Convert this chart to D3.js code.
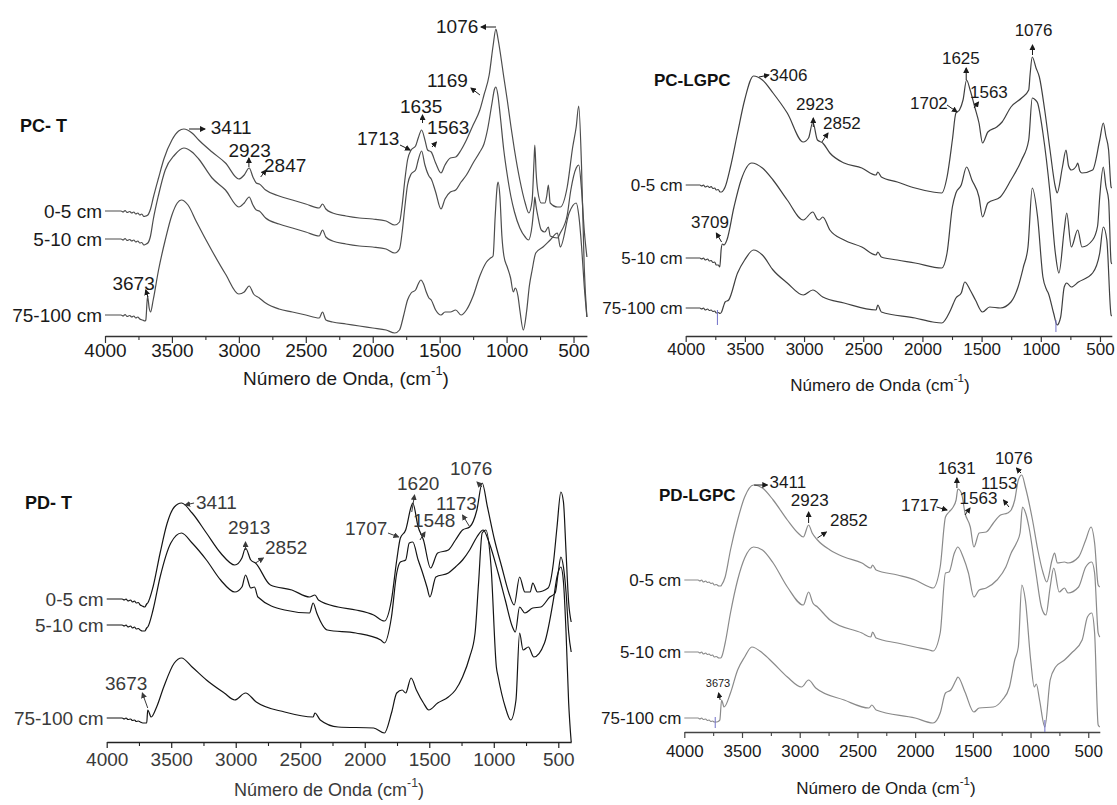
<!DOCTYPE html>
<html><head><meta charset="utf-8">
<script src="https://cdn.jsdelivr.net/npm/d3@7"></script>
<style>
body{margin:0;background:#fff;}
svg text{font-family:Arial,"Liberation Sans",sans-serif;}
</style>
</head><body>
<svg id="chart" width="1117" height="805"></svg>
<script>
// ---------- data ----------
const depthLabels = ["0-5 cm", "5-10 cm", "75-100 cm"];
const majorTicks = [4000, 3500, 3000, 2500, 2000, 1500, 1000, 500];
const minorTicks = [3750, 3250, 2750, 2250, 1750, 1250, 750];

// PC- T  [wavenumber cm-1, intensity a.u.]
const pcT_0_5 = [[4000,125],[3880,125],[3865,124],[3850,125.5],[3835,123.5],[3815,124.5],[3800,123],[3785,124],[3770,122],[3755,123],[3740,121],[3725,122],[3710,119.5],[3695,120],[3680,121],[3660,127],[3640,138],[3600,158],[3560,177],[3500,196],[3450,205],[3411,207],[3350,203],[3300,196],[3200,184],[3100,173],[3000,157],[2960,161],[2923,168],[2895,159],[2870,153],[2847,152],[2800,146],[2700,140],[2600,136],[2500,132],[2400,128],[2375,132],[2350,127],[2300,123],[2200,120],[2100,118],[2000,117],[1900,115],[1835,111],[1800,114],[1780,131],[1760,156],[1740,176],[1713,186],[1680,190],[1660,198],[1635,206],[1610,196],[1590,186],[1563,184],[1530,173],[1490,163],[1460,171],[1420,178],[1380,179],[1340,186],[1300,196],[1250,211],[1200,226],[1169,241],[1130,261],[1100,291],[1080,307],[1065,298],[1048,284],[1021,259],[995,236],[967,209],[941,186],[901,156],[861,133],[834,123],[809,136],[795,175],[789,191],[780,165],[768,146],[741,133],[714,133],[700,140],[688,151],[674,133],[620,129],[599,129],[547,149],[506,189],[480,209],[461,230],[440,169],[420,69],[400,19]];
const pcT_5_10 = [[4000,97],[3880,97],[3865,96],[3850,97.5],[3835,95.5],[3815,96.5],[3800,95],[3785,96],[3770,94],[3755,95],[3740,93],[3725,93.5],[3710,91],[3700,91.5],[3680,93],[3660,100],[3640,116],[3600,141],[3550,166],[3480,181],[3411,188],[3350,184],[3300,177],[3200,158],[3100,146],[3000,129],[2960,133],[2923,139],[2895,131],[2870,126],[2847,125],[2800,118],[2700,112],[2600,108],[2500,104],[2400,100],[2375,106],[2350,99],[2300,95],[2200,92],[2100,90],[2000,89],[1900,87],[1835,83],[1800,87],[1780,104],[1760,129],[1740,151],[1713,162],[1680,166],[1660,176],[1635,185],[1610,171],[1580,160],[1563,157],[1530,144],[1490,127],[1460,137],[1420,144],[1380,146],[1340,154],[1300,161],[1250,173],[1200,184],[1169,192],[1140,208],[1110,232],[1090,247],[1080,249],[1065,241],[1048,221],[1021,186],[995,161],[967,139],[941,124],[901,108],[861,99],[837,96],[809,111],[795,130],[789,139],[780,130],[768,121],[741,106],[714,104],[688,109],[674,100],[620,98],[599,103],[547,121],[520,146],[480,168],[461,171],[440,146],[420,106],[400,79]];
const pcT_75_100 = [[4000,21],[3880,21],[3865,20],[3850,21.5],[3835,19.5],[3815,20.5],[3800,19],[3785,20],[3770,18],[3755,19],[3740,17],[3720,16],[3700,15],[3695,16],[3682,40],[3670,28],[3660,24],[3640,36],[3600,66],[3550,96],[3500,121],[3460,133],[3430,136],[3380,131],[3320,115],[3200,85],[3100,62],[3000,42],[2960,44],[2923,50],[2890,42],[2847,38],[2800,33],[2700,27],[2600,24],[2500,21],[2400,18],[2375,24],[2350,16],[2300,14],[2200,12],[2100,10],[2000,8],[1900,6],[1835,3],[1800,6],[1770,20],[1740,36],[1713,43],[1680,46],[1660,52],[1640,56],[1620,52],[1600,44],[1580,38],[1563,36],[1530,26],[1490,21],[1460,24],[1420,24],[1380,26],[1340,21],[1300,26],[1250,40],[1200,60],[1150,74],[1120,78],[1101,80],[1085,120],[1070,150],[1063,154],[1050,140],[1035,100],[1020,80],[995,69],[970,58],[950,44],[935,48],[915,40],[900,25],[875,6],[850,25],[830,50],[809,66],[782,83],[728,89],[674,96],[620,103],[599,89],[533,123],[480,133],[460,120],[440,90],[420,50],[400,19]];

// PC-LGPC
const pcL_0_5 = [[4000,151],[3880,151],[3865,150],[3850,151],[3835,149],[3815,150],[3800,148.5],[3785,149.5],[3770,147.5],[3755,148],[3742,146],[3725,146.5],[3710,144],[3697,144],[3680,146],[3667,149],[3622,169],[3562,203],[3502,236],[3427,260],[3352,256],[3262,243],[3142,223],[3007,194],[2962,198],[2926,214],[2887,196],[2842,193],[2782,183],[2662,173],[2512,168],[2392,161],[2377,164],[2347,159],[2212,154],[2062,148],[1912,144],[1837,143],[1792,159],[1747,196],[1717,223],[1687,226],[1657,236],[1627,256],[1597,246],[1558,229],[1522,213],[1492,193],[1447,204],[1372,209],[1327,214],[1252,229],[1162,238],[1102,246],[1090,262],[1072,279],[1040,268],[1012,259],[967,226],[922,186],[877,149],[862,143],[817,169],[787,186],[765,170],[742,166],[700,170],[688,173],[670,165],[652,163],[562,166],[502,196],[472,213],[450,200],[427,186],[406,149],[400,148]];
const pcL_5_10 = [[4000,78],[3880,78],[3865,77],[3850,78],[3835,76],[3815,77],[3800,75],[3785,75.5],[3770,73.5],[3755,74],[3742,71],[3725,71],[3712,69],[3700,87],[3690,92],[3676,91],[3652,96],[3592,129],[3532,156],[3442,173],[3352,168],[3262,156],[3142,136],[3007,116],[2926,124],[2890,117],[2872,116],[2842,119],[2782,106],[2662,96],[2512,89],[2392,81],[2377,84],[2347,79],[2212,76],[2062,73],[1837,68],[1792,83],[1747,129],[1717,143],[1672,151],[1627,169],[1582,156],[1522,139],[1492,119],[1447,133],[1342,139],[1252,156],[1162,176],[1102,196],[1072,238],[1045,236],[1027,233],[982,203],[922,143],[877,83],[847,63],[802,106],[781,123],[742,89],[688,106],[652,89],[562,96],[520,110],[502,139],[472,169],[450,150],[427,136],[406,74],[400,72]];
const pcL_75_100 = [[4000,28],[3880,28],[3865,27],[3850,28],[3835,26],[3815,27],[3800,25.5],[3785,26],[3770,24.5],[3755,25],[3742,23],[3725,23.5],[3710,22.5],[3697,24],[3680,30],[3667,34],[3637,36],[3562,63],[3502,76],[3427,86],[3352,81],[3262,66],[3142,53],[3007,41],[2926,46],[2842,39],[2662,33],[2392,26],[2377,31],[2347,24],[2062,18],[1912,14],[1837,13],[1762,26],[1717,38],[1672,43],[1642,54],[1597,46],[1552,36],[1492,24],[1432,29],[1342,28],[1252,34],[1192,49],[1147,69],[1108,89],[1072,148],[1027,119],[982,59],[950,46],[937,43],[892,23],[862,11],[832,19],[802,49],[781,53],[742,49],[682,54],[562,63],[502,83],[472,109],[442,96],[406,21],[400,20]];

// PD- T
const pdT_0_5 = [[4000,143],[3880,143],[3865,142],[3850,143],[3835,141],[3815,142],[3800,140],[3785,141],[3770,139],[3755,139.5],[3740,137],[3724,136],[3705,135],[3690,138],[3682,139],[3641,155],[3586,189],[3531,219],[3476,235],[3420,239],[3338,229],[3227,209],[3117,189],[3007,177],[2952,184],[2924,194],[2883,182],[2847,179],[2731,157],[2565,152],[2428,145],[2386,147],[2359,142],[2207,135],[2069,132],[1931,127],[1848,121],[1793,142],[1752,182],[1724,204],[1683,212],[1641,235],[1628,239],[1586,215],[1545,202],[1490,174],[1435,189],[1352,192],[1297,202],[1242,212],[1187,215],[1131,232],[1090,259],[1049,235],[994,202],[938,175],[883,149],[842,137],[800,165],[759,150],[718,150],[698,159],[662,150],[579,154],[538,179],[510,215],[480,250],[460,240],[440,190],[420,140],[400,120]];
const pdT_5_10 = [[4000,117],[3880,117],[3865,116],[3850,117],[3835,115],[3815,116],[3800,114],[3785,115],[3770,113],[3755,113.5],[3740,112],[3724,111],[3705,111],[3690,114],[3682,115],[3641,132],[3586,165],[3503,199],[3420,209],[3338,199],[3227,182],[3117,162],[3007,150],[2952,155],[2924,167],[2883,154],[2855,155],[2828,145],[2621,132],[2428,129],[2400,139],[2372,129],[2290,112],[2069,109],[1876,102],[1848,99],[1793,125],[1752,169],[1724,180],[1683,182],[1655,199],[1628,200],[1586,182],[1559,172],[1518,155],[1495,145],[1449,165],[1352,169],[1297,175],[1242,182],[1187,192],[1131,205],[1082,212],[1035,199],[966,169],[911,142],[855,115],[833,110],[800,135],[759,129],[698,134],[635,135],[566,145],[524,149],[500,170],[480,185],[460,175],[440,150],[420,110],[400,90]];
const pdT_75_100 = [[4000,24],[3880,24],[3865,23],[3850,24],[3835,22.5],[3815,23],[3800,21.5],[3785,22],[3770,20.5],[3755,21],[3740,20],[3720,19],[3700,19],[3690,19],[3682,32],[3655,25],[3613,35],[3558,55],[3476,79],[3420,84],[3338,75],[3227,62],[3089,49],[3007,42],[2924,49],[2841,40],[2621,30],[2400,25],[2386,29],[2345,22],[2207,15],[1931,14],[1848,9],[1793,29],[1752,49],[1710,52],[1683,49],[1641,64],[1600,52],[1545,39],[1504,32],[1435,39],[1352,45],[1297,52],[1242,65],[1187,85],[1145,109],[1118,159],[1090,209],[1062,212],[1021,175],[980,75],[966,65],[911,35],[869,22],[828,42],[800,109],[773,92],[732,95],[690,85],[607,99],[538,142],[510,165],[480,175],[460,160],[440,110],[420,40],[400,0]];

// PD-LGPC
const pdL_0_5 = [[4000,152],[3880,152],[3865,151],[3850,152],[3835,150],[3815,151],[3800,149.5],[3785,150],[3770,148.5],[3755,149],[3740,147],[3723,147.5],[3700,146],[3685,146],[3677,147],[3646,155],[3600,182],[3538,212],[3477,235],[3400,247],[3323,244],[3230,232],[3107,212],[3015,199],[2969,195],[2923,207],[2892,199],[2846,192],[2738,182],[2615,175],[2461,169],[2384,164],[2369,167],[2338,162],[2153,157],[2000,152],[1876,145],[1845,144],[1783,165],[1737,215],[1706,220],[1676,224],[1645,232],[1630,243],[1599,239],[1568,219],[1522,205],[1491,185],[1445,199],[1384,200],[1322,209],[1260,217],[1199,219],[1168,222],[1137,232],[1106,252],[1076,257],[1045,245],[983,212],[937,182],[891,159],[860,150],[814,172],[792,179],[768,169],[706,170],[676,169],[584,175],[522,192],[476,205],[445,189],[414,147],[400,145]];
const pdL_5_10 = [[4000,80],[3880,80],[3865,79],[3850,80],[3835,78],[3815,79],[3800,77.5],[3785,78],[3770,76.5],[3755,77],[3740,75],[3723,75.5],[3700,74],[3685,74],[3677,75],[3646,89],[3600,119],[3538,152],[3477,174],[3400,185],[3323,182],[3230,169],[3107,145],[2969,127],[2923,140],[2886,129],[2846,125],[2738,112],[2461,99],[2384,95],[2369,100],[2338,94],[2153,89],[2000,85],[1876,82],[1845,81],[1783,99],[1737,159],[1706,160],[1660,179],[1630,185],[1584,175],[1538,159],[1491,135],[1445,142],[1384,144],[1291,152],[1214,165],[1168,179],[1122,189],[1091,199],[1070,225],[1040,218],[1014,205],[953,159],[906,125],[867,117],[830,145],[799,164],[752,140],[706,144],[676,139],[584,145],[522,165],[470,170],[445,159],[414,99],[400,95]];
const pdL_75_100 = [[4000,14],[3880,14],[3865,13],[3850,14],[3835,12.5],[3815,13],[3800,11.5],[3785,12],[3770,10.5],[3755,11],[3740,10],[3720,10],[3700,11],[3692,12],[3677,32],[3655,25],[3600,39],[3538,62],[3477,75],[3415,85],[3323,79],[3230,69],[3107,55],[2984,45],[2923,52],[2861,44],[2615,32],[2400,24],[2375,27],[2338,22],[2000,14],[1845,9],[1783,19],[1737,39],[1691,42],[1645,52],[1630,55],[1568,40],[1491,20],[1445,24],[1322,25],[1245,32],[1183,45],[1137,72],[1106,85],[1076,147],[1045,132],[999,72],[968,45],[950,48],[922,32],[876,5],[830,52],[783,65],[706,72],[645,79],[553,92],[507,115],[470,119],[445,99],[414,7],[400,5]];

// peak annotations: [label, wnText, vText, wnFrom, vFrom, wnTo, vTo]
const pcT_peaks = [["3411",3210,209,3372,207,3253,207],["2923",3077,186,2925,169,2925,178],["2847",2812,171,2837,159,2797,166],["1713",2117,198,1796,191,1721,186],["1635",1796,230,1628,213,1628,221],["1563",1594,209,1557,189,1524,194],["1169",1594,256,1199,241,1266,248],["1076",1527,310,1079,309,1191,309],["3673",3944,53,3679,39,3696,46]];
const pcL_peaks = [["3406",3291,261,3381,259,3297,261],["2923",3068,232,2922,209,2922,218],["2852",2840,213,2849,194,2798,203],["1702",2105,233,1792,231,1708,224],["1625",1835,278,1630,256,1630,268],["1563",1598,244,1564,228,1526,234],["1076",1221,306,1070,281,1070,291],["3709",3955,114,3697,94,3741,103]];
const pdT_peaks = [["3411",3308,240,3323,239,3392,237],["2913",3060,215,2924,192,2924,200],["2852",2773,195,2847,179,2786,184],["1707",2153,214,1820,209,1738,205],["1620",1750,259,1636,230,1614,247],["1548",1626,222,1572,202,1533,210],["1173",1448,239,1186,215,1242,227],["1076",1339,274,1091,255,1130,260],["3673",4013,59,3682,34,3724,49]];
const pdL_peaks = [["3411",3261,250,3395,247,3281,247],["2923",3077,232,2923,209,2923,220],["2852",2738,212,2847,194,2769,200],["1717",2123,227,1814,225,1724,222],["1631",1803,264,1638,244,1638,254],["1563",1615,234,1568,217,1525,224],["1153",1430,249,1187,225,1234,232],["1076",1309,274,1083,259,1122,264],["3673",3814,49,3689,32,3703,39]];
// small blue marker ticks [wn, vTop, vBottom]
const pcL_marks = [[3732,26,11],[872,16,4]];
const pdL_marks = [[3732,15,4],[876,12,0]];

// ---------- layout ----------
const panels = [
  {name:"PC- T", series:[pcT_0_5,pcT_5_10,pcT_75_100], peaks:pcT_peaks, marks:[],
   x0:105, x1:586.9, axisY:336, lineColor:"#4d4d4d", textColor:"#1a1a1a", axisColor:"#333",
   fs:19, nameFs:18, nameX:20, nameY:126, tickLen:7, tickPad:1,
   title:"Número de Onda, (cm", titleX:346, titleY:378, titleFs:19},
  {name:"PC-LGPC", series:[pcL_0_5,pcL_5_10,pcL_75_100], peaks:pcL_peaks, marks:pcL_marks,
   x0:685.7, x1:1111.8, axisY:336, lineColor:"#404040", textColor:"#1a1a1a", axisColor:"#333",
   fs:17, nameFs:17, nameX:654, nameY:80, tickLen:6, tickPad:1,
   title:"Número de Onda (cm", titleX:880, titleY:385, titleFs:17},
  {name:"PD- T", series:[pdT_0_5,pdT_5_10,pdT_75_100], peaks:pdT_peaks, marks:[],
   x0:106.7, x1:571.2, axisY:742, lineColor:"#151515", textColor:"#3a3a3a", axisColor:"#222",
   fs:19, nameFs:18, nameX:25, nameY:503, tickLen:6, tickPad:5,
   title:"Número de Onda (cm", titleX:329, titleY:790, titleFs:18},
  {name:"PD-LGPC", series:[pdL_0_5,pdL_5_10,pdL_75_100], peaks:pdL_peaks, marks:pdL_marks,
   x0:684.3, x1:1099.8, axisY:732, lineColor:"#8a8a8a", textColor:"#1a1a1a", axisColor:"#444",
   fs:17, nameFs:17, nameX:659, nameY:495, tickLen:6, tickPad:7,
   title:"Número de Onda (cm", titleX:886, titleY:788, titleFs:17}
];

const svg = d3.select("#chart");
const defs = svg.append("defs");

panels.forEach((p, pi) => {
  const x = d3.scaleLinear().domain([4000, 400]).range([p.x0, p.x1]);
  const y = d3.scaleLinear().domain([0, 330]).range([p.axisY, p.axisY - 330]);
  const g = svg.append("g");

  defs.append("marker").attr("id", "ah" + pi)
    .attr("viewBox", "0 0 6 6").attr("refX", 5).attr("refY", 3)
    .attr("markerWidth", 6).attr("markerHeight", 6).attr("markerUnits", "userSpaceOnUse")
    .attr("orient", "auto")
    .append("path").attr("d", "M0,0L6,3L0,6Z").attr("fill", p.textColor);

  // axis (major)
  const ax = g.append("g").attr("transform", `translate(0,${p.axisY})`)
    .call(d3.axisBottom(x).tickValues(majorTicks).tickSize(p.tickLen).tickSizeOuter(0)
      .tickPadding(p.tickPad).tickFormat(d3.format("d")));
  ax.select(".domain").attr("stroke", p.axisColor).attr("stroke-width", 1.3);
  ax.selectAll(".tick line").attr("stroke", p.axisColor).attr("stroke-width", 1.2);
  ax.selectAll(".tick text").attr("font-size", p.fs).attr("fill", p.textColor)
    .attr("font-family", "Arial, 'Liberation Sans', sans-serif");
  // minor
  const axm = g.append("g").attr("transform", `translate(0,${p.axisY})`)
    .call(d3.axisBottom(x).tickValues(minorTicks).tickSize(4).tickFormat(""));
  axm.select(".domain").remove();
  axm.selectAll(".tick line").attr("stroke", p.axisColor).attr("stroke-width", 1.1);

  // title
  const t = g.append("text").attr("x", p.titleX).attr("y", p.titleY)
    .attr("text-anchor", "middle").attr("dominant-baseline", "central")
    .attr("font-size", p.titleFs).attr("fill", p.textColor);
  t.append("tspan").text(p.title);
  t.append("tspan").text("-1").attr("font-size", p.titleFs * 0.68).attr("dy", -p.titleFs * 0.4);
  t.append("tspan").text(")").attr("dy", p.titleFs * 0.4);

  // panel name
  g.append("text").attr("x", p.nameX).attr("y", p.nameY).attr("dominant-baseline", "central")
    .attr("font-size", p.nameFs).attr("font-weight", "bold").attr("fill", "#111").text(p.name);

  // curves
  const line = d3.line().x(d => x(d[0])).y(d => y(d[1])).curve(d3.curveMonotoneX);
  p.series.forEach((s, si) => {
    g.append("path").datum(s).attr("d", line).attr("fill", "none")
      .attr("stroke", p.lineColor).attr("stroke-width", 1.2).attr("stroke-linejoin", "round");
    g.append("text").attr("x", x(4000) - 3).attr("y", y(s[0][1]))
      .attr("text-anchor", "end").attr("dominant-baseline", "central")
      .attr("font-size", p.fs).attr("fill", p.textColor).text(depthLabels[si]);
  });

  // blue marks
  p.marks.forEach(m => {
    g.append("line").attr("x1", x(m[0])).attr("x2", x(m[0]))
      .attr("y1", y(m[1])).attr("y2", y(m[2])).attr("stroke", "#6f6fc8").attr("stroke-width", 1);
  });

  // annotations
  p.peaks.forEach(a => {
    const small = (pi === 3 && a[0] === "3673");
    g.append("text").attr("x", x(a[1])).attr("y", y(a[2])).attr("dominant-baseline", "central")
      .attr("font-size", small ? 11 : p.fs).attr("fill", p.textColor).text(a[0]);
    g.append("line").attr("x1", x(a[3])).attr("y1", y(a[4])).attr("x2", x(a[5])).attr("y2", y(a[6]))
      .attr("stroke", p.textColor).attr("stroke-width", 1).attr("marker-end", `url(#ah${pi})`);
  });
});
</script>
</body></html>
